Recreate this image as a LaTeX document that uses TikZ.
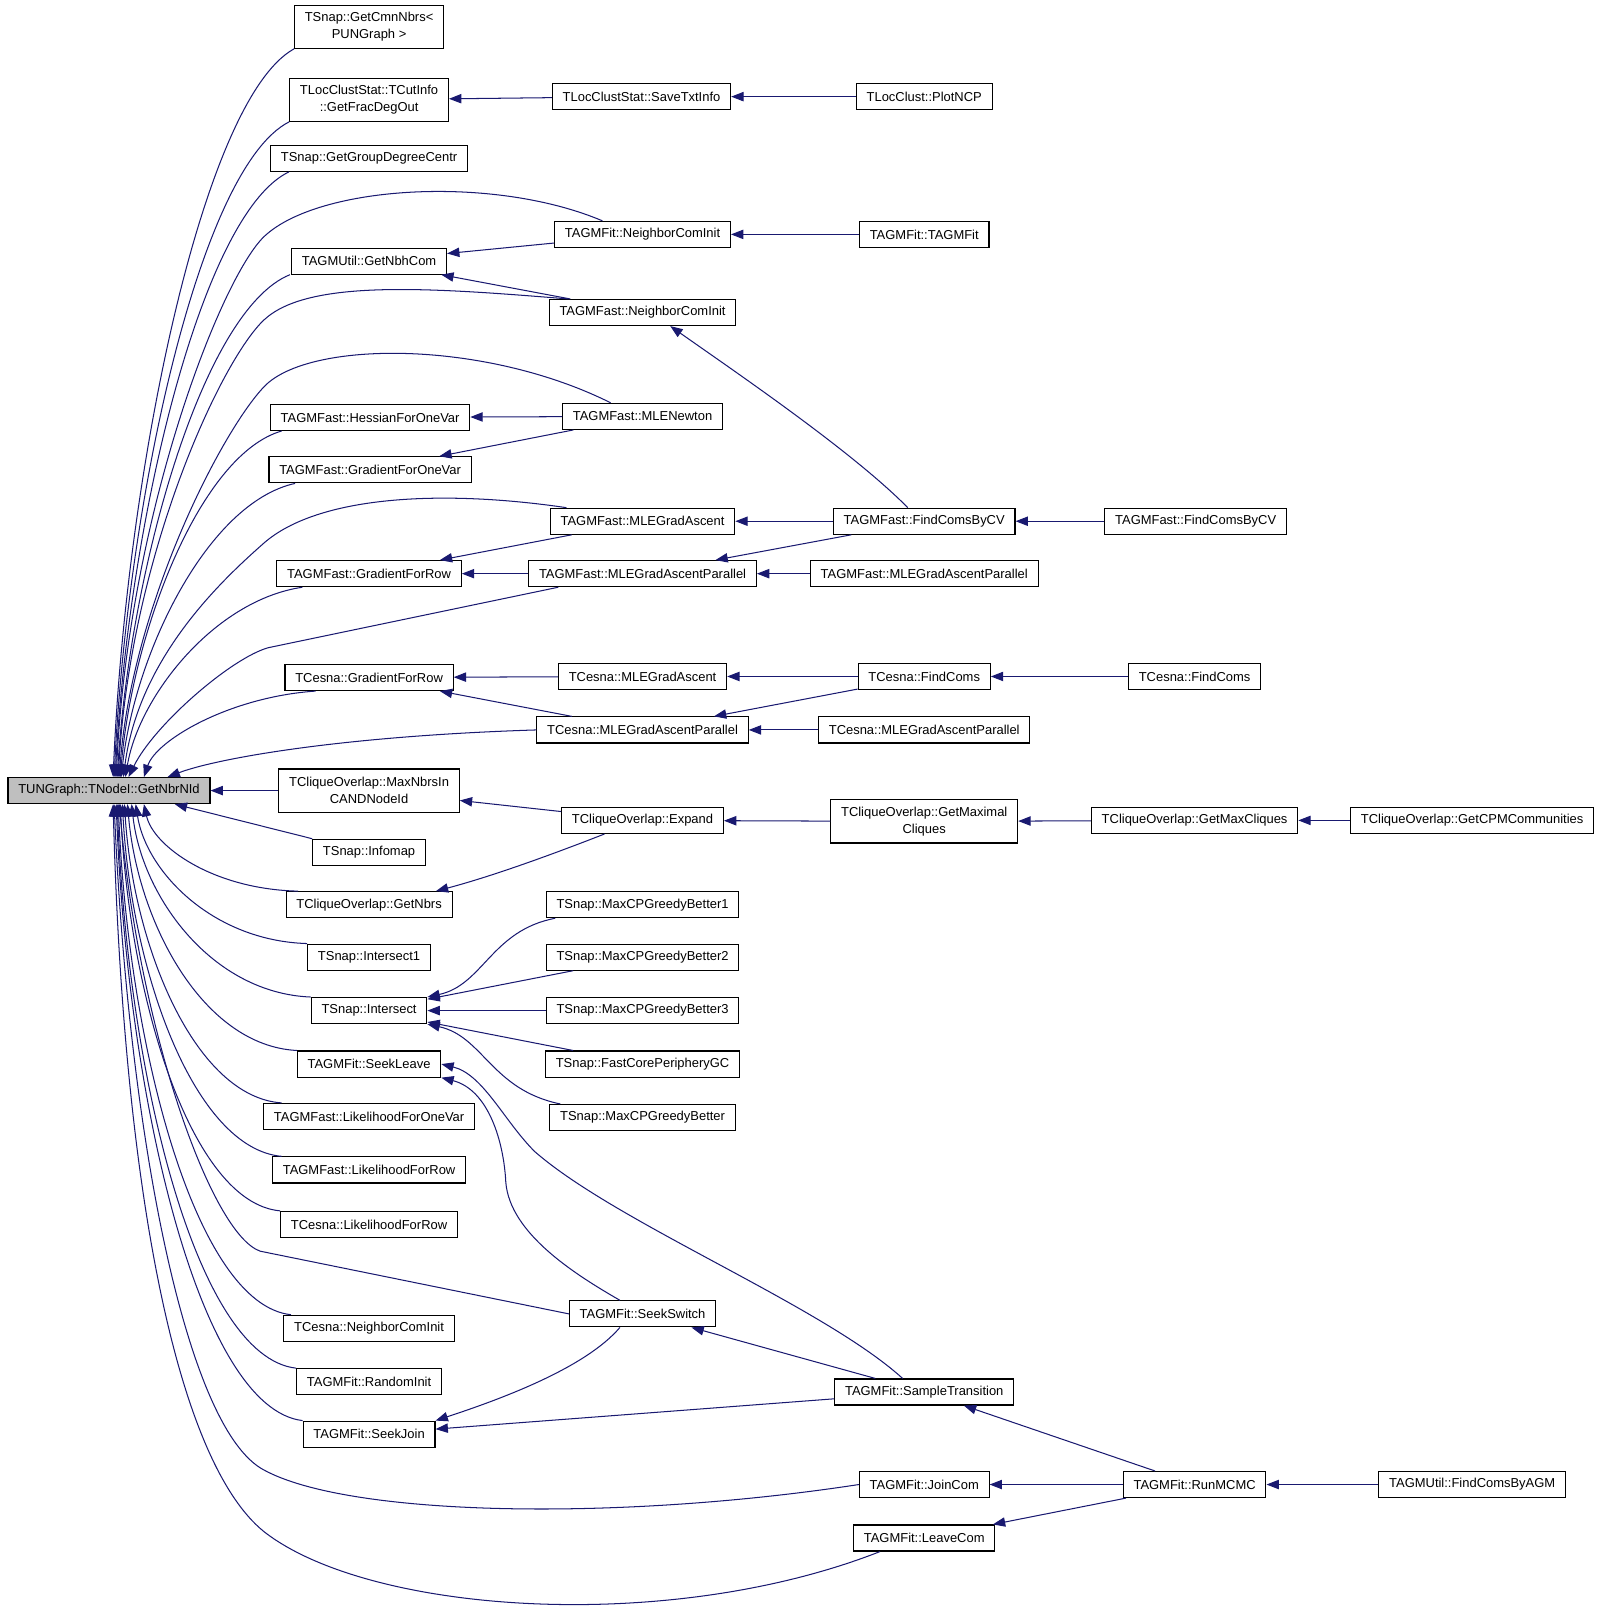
\documentclass[tikz,border=0pt]{standalone}
\usepackage{fontspec}
\setmainfont{Liberation Sans}
\usetikzlibrary{arrows.meta}
\definecolor{callblue}{RGB}{25,25,112}
\definecolor{rootgray}{RGB}{191,191,191}
\tikzset{
  fnbox/.style={draw=black, line width=0.8pt, fill=white, inner xsep=7.5pt, inner ysep=2pt,
    minimum height=19pt, align=center, font=\fontsize{9.45}{12}\selectfont},
  fnboxtwo/.style={fnbox, minimum height=31.5pt},
  fnroot/.style={fnbox, fill=rootgray},
  callarrow/.style={draw=callblue, line width=0.75pt, >={Triangle[length=9pt,width=6.8pt]}, <-},
}
\begin{document}
\begin{tikzpicture}[x=0.75pt,y=0.75pt,yscale=-1,xscale=1]
\useasboundingbox (0,0) rectangle (1559,1568);

% Text Node: root
\node [fnroot] (c) at (106,769) {TUNGraph::TNodeI::GetNbrNId};

% Text Node: first callers
\node [fnboxtwo] (ncmn) at (359,26) {TSnap::GetCmnNbrs<\\PUNGraph >};
\node [fnboxtwo] (nfrac) at (359,97) {TLocClustStat::TCutInfo\\::GetFracDegOut};
\node [fnbox] (ngdc) at (359,154) {TSnap::GetGroupDegreeCentr};
\node [fnbox] (nnbh) at (359,254) {TAGMUtil::GetNbhCom};
\node [fnbox] (nhess) at (360,406) {TAGMFast::HessianForOneVar};
\node [fnbox] (ngrad1) at (360,457) {TAGMFast::GradientForOneVar};
\node [fnbox] (ngradrow) at (359,558) {TAGMFast::GradientForRow};
\node [fnbox] (ncgrad) at (359,659) {TCesna::GradientForRow};
\node [fnboxtwo] (nmaxnbrs) at (359,769) {TCliqueOverlap::MaxNbrsIn\\CANDNodeId};
\node [fnbox] (ninfomap) at (359,829) {TSnap::Infomap};
\node [fnbox] (ngetnbrs) at (359,880) {TCliqueOverlap::GetNbrs};
\node [fnbox] (nint1) at (359,931) {TSnap::Intersect1};
\node [fnbox] (nint) at (359,983) {TSnap::Intersect};
\node [fnbox] (nsl) at (359,1035) {TAGMFit::SeekLeave};
\node [fnbox] (nlik1) at (359,1086) {TAGMFast::LikelihoodForOneVar};
\node [fnbox] (nlikrow) at (359,1138) {TAGMFast::LikelihoodForRow};
\node [fnbox] (nclik) at (359,1191) {TCesna::LikelihoodForRow};
\node [fnbox] (ncnci) at (359,1292) {TCesna::NeighborComInit};
\node [fnbox] (nrand) at (359,1344) {TAGMFit::RandomInit};
\node [fnbox] (nsj) at (359,1395) {TAGMFit::SeekJoin};

% Text Node: second callers
\node [fnbox] (nsave) at (624,94) {TLocClustStat::SaveTxtInfo};
\node [fnbox] (nfitnci) at (625,228) {TAGMFit::NeighborComInit};
\node [fnbox] (nfastnci) at (625,304) {TAGMFast::NeighborComInit};
\node [fnbox] (nnewton) at (625,405) {TAGMFast::MLENewton};
\node [fnbox] (nmlega) at (625,507) {TAGMFast::MLEGradAscent};
\node [fnbox] (nmlegap) at (625,558) {TAGMFast::MLEGradAscentParallel};
\node [fnbox] (ncmlega) at (625,658) {TCesna::MLEGradAscent};
\node [fnbox] (ncmlegap) at (625,710) {TCesna::MLEGradAscentParallel};
\node [fnbox] (nexpand) at (625,798) {TCliqueOverlap::Expand};
\node [fnbox] (nb1) at (625,880) {TSnap::MaxCPGreedyBetter1};
\node [fnbox] (nb2) at (625,931) {TSnap::MaxCPGreedyBetter2};
\node [fnbox] (nb3) at (625,983) {TSnap::MaxCPGreedyBetter3};
\node [fnbox] (nfcp) at (625,1035) {TSnap::FastCorePeripheryGC};
\node [fnbox] (nbb) at (625,1087) {TSnap::MaxCPGreedyBetter};
\node [fnbox] (nsw) at (625,1278) {TAGMFit::SeekSwitch};

% Text Node: third callers
\node [fnbox] (nplot) at (899,94) {TLocClust::PlotNCP};
\node [fnbox] (ntagm) at (899,228) {TAGMFit::TAGMFit};
\node [fnbox] (nfcv) at (899,507) {TAGMFast::FindComsByCV};
\node [fnbox] (nmlegap2) at (899,558) {TAGMFast::MLEGradAscentParallel};
\node [fnbox] (ncfind) at (899,658) {TCesna::FindComs};
\node [fnbox] (ncmlegap2) at (899,710) {TCesna::MLEGradAscentParallel};
\node [fnboxtwo] (nmaximal) at (899,799) {TCliqueOverlap::GetMaximal\\Cliques};
\node [fnbox] (nst) at (899,1354) {TAGMFit::SampleTransition};
\node [fnbox] (njc) at (899,1444) {TAGMFit::JoinCom};
\node [fnbox] (nlc) at (899,1496) {TAGMFit::LeaveCom};

% Text Node: fourth and fifth callers
\node [fnbox] (nfcv2) at (1163,507) {TAGMFast::FindComsByCV};
\node [fnbox] (ncfind2) at (1162,658) {TCesna::FindComs};
\node [fnbox] (nmaxcl) at (1162,798) {TCliqueOverlap::GetMaxCliques};
\node [fnbox] (nrun) at (1162,1444) {TAGMFit::RunMCMC};
\node [fnbox] (ncpm) at (1432,798) {TCliqueOverlap::GetCPMCommunities};
\node [fnbox] (nagm) at (1432,1444) {TAGMUtil::FindComsByAGM};

%Curve Lines: into the root from above
\draw [callarrow] (c.north -| 110,0) .. controls (123,458) and (197,97) .. (ncmn.south west);
\draw [callarrow] (c.north -| 111,0) .. controls (124,487) and (194,163) .. (nfrac.south west);
\draw [callarrow] (c.north -| 112,0) .. controls (125,508) and (196,208) .. (ngdc.south -| 281,0);
\draw [callarrow] (c.north -| 113,0) .. controls (125,500) and (215,270) .. (257,230) .. controls (310,180) and (480,170) .. (nfitnci.north -| 586,0);
\draw [callarrow] (c.north -| 114,0) .. controls (127,550) and (198,301) .. (nnbh.south -| 282,0);
\draw [callarrow] (c.north -| 115,0) .. controls (127,540) and (215,350) .. (257,311) .. controls (300,271) and (420,280) .. (nfastnci.north -| 553,0);
\draw [callarrow] (c.north -| 116,0) .. controls (128,590) and (215,420) .. (257,376) .. controls (300,331) and (470,330) .. (nnewton.north -| 594,0);
\draw [callarrow] (c.north -| 117,0) .. controls (129,613) and (195,442) .. (nhess.south -| 274,0);
\draw [callarrow] (c.north -| 118,0) .. controls (131,635) and (202,489) .. (ngrad1.south -| 287,0);
\draw [callarrow] (c.north -| 120,0) .. controls (135,640) and (215,565) .. (257,528) .. controls (310,482) and (430,476) .. (nmlega.north -| 551,0);
\draw [callarrow] (c.north -| 122,0) .. controls (135,678) and (208,584) .. (ngradrow.south -| 294,0);
\draw [callarrow] (c.north -| 125,0) .. controls (150,705) and (225,640) .. (261,630) -- (nmlegap.south -| 543,0);
\draw [callarrow] (c.north -| 140,0) .. controls (152,720) and (223,678) .. (ncgrad.south -| 307,0);
\draw [callarrow] (c.north -| 163,0) .. controls (210,738) and (330,716) .. (ncmlegap.west);

%Straight Lines
\draw [callarrow] (c) -- (nmaxnbrs);
\draw [callarrow] (c.south -| 170,0) -- (ninfomap.north west);

%Curve Lines: into the root from below
\draw [callarrow] (c.south -| 140,0) .. controls (149,823) and (207,865) .. (ngetnbrs.north -| 290,0);
\draw [callarrow] (c.south -| 132,0) .. controls (142,847) and (206,915) .. (nint1.north west);
\draw [callarrow] (c.south -| 128,0) .. controls (138,872) and (206,966) .. (nint.north west);
\draw [callarrow] (c.south -| 124,0) .. controls (134,897) and (197,1017) .. (nsl.north west);
\draw [callarrow] (c.south -| 121,0) .. controls (130,922) and (190,1067) .. (nlik1.north -| 274,0);
\draw [callarrow] (c.south -| 119,0) .. controls (128,946) and (189,1117) .. (nlikrow.north -| 274,0);
\draw [callarrow] (c.south -| 117,0) .. controls (126,972) and (186,1170) .. (nclik.north west);
\draw [callarrow] (c.south -| 116,0) .. controls (135,1000) and (205,1200) .. (253,1217) -- (nsw.west);
\draw [callarrow] (c.south -| 115,0) .. controls (125,1021) and (191,1269) .. (ncnci.north -| 283,0);
\draw [callarrow] (c.south -| 114,0) .. controls (124,1046) and (191,1320) .. (nrand.north west);
\draw [callarrow] (c.south -| 113,0) .. controls (124,1070) and (194,1370) .. (nsj.north west);
\draw [callarrow] (c.south -| 111,0) .. controls (125,1100) and (180,1390) .. (257,1430) .. controls (340,1475) and (600,1480) .. (njc.west);
\draw [callarrow] (c.south -| 110,0) .. controls (120,1150) and (170,1420) .. (257,1490) .. controls (360,1570) and (650,1590) .. (nlc.south -| 856,0);

%Straight Lines: upper branches
\draw [callarrow] (nfrac) -- (nsave);
\draw [callarrow] (nsave) -- (nplot);
\draw [callarrow] (nnbh) -- (nfitnci);
\draw [callarrow] (nnbh) -- (nfastnci);
\draw [callarrow] (nfitnci) -- (ntagm);
\draw [callarrow] (nfastnci.south -| 652,0) .. controls (720,365) and (830,440) .. (nfcv.north -| 883,0);
\draw [callarrow] (nhess) -- (nnewton);
\draw [callarrow] (ngrad1) -- (nnewton);
\draw [callarrow] (ngradrow) -- (nmlega);
\draw [callarrow] (ngradrow) -- (nmlegap);
\draw [callarrow] (nmlega) -- (nfcv);
\draw [callarrow] (nmlegap) -- (nfcv);
\draw [callarrow] (nmlegap) -- (nmlegap2);
\draw [callarrow] (nfcv) -- (nfcv2);
\draw [callarrow] (ncgrad) -- (ncmlega);
\draw [callarrow] (ncgrad) -- (ncmlegap);
\draw [callarrow] (ncmlega) -- (ncfind);
\draw [callarrow] (ncmlegap) -- (ncfind);
\draw [callarrow] (ncmlegap) -- (ncmlegap2);
\draw [callarrow] (ncfind) -- (ncfind2);

%Straight Lines: clique branch
\draw [callarrow] (nmaxnbrs) -- (nexpand);
\draw [callarrow] (ngetnbrs.north -| 424,0) .. controls (480,852) and (540,830) .. (nexpand.south -| 588,0);
\draw [callarrow] (nexpand) -- (nmaximal);
\draw [callarrow] (nmaximal) -- (nmaxcl);
\draw [callarrow] (nmaxcl) -- (ncpm);

%Straight Lines: intersect branch
\draw [callarrow] (nint.north east) .. controls (470,958) and (478,905) .. (nb1.south -| 540,0);
\draw [callarrow] (nint) -- (nb2);
\draw [callarrow] (nint) -- (nb3);
\draw [callarrow] (nint) -- (nfcp);
\draw [callarrow] (nint.south east) .. controls (470,1008) and (478,1060) .. (nbb.north -| 545,0);

%Curve Lines: mcmc branch
\draw [callarrow] (nsl.south east) .. controls (475,1060) and (490,1110) .. (492,1150) .. controls (496,1200) and (560,1240) .. (nsw.north -| 603,0);
\draw [callarrow] (nsl.east) .. controls (470,1045) and (490,1090) .. (520,1120) .. controls (600,1190) and (800,1270) .. (nst.north -| 878,0);
\draw [callarrow] (nsw) -- (nst);
\draw [callarrow] (nsj.north east) .. controls (490,1360) and (570,1330) .. (nsw.south -| 603,0);
\draw [callarrow] (nsj) -- (nst);
\draw [callarrow] (nst) -- (nrun);
\draw [callarrow] (njc) -- (nrun);
\draw [callarrow] (nlc) -- (nrun);
\draw [callarrow] (nrun) -- (nagm);
\end{tikzpicture}
\end{document}
